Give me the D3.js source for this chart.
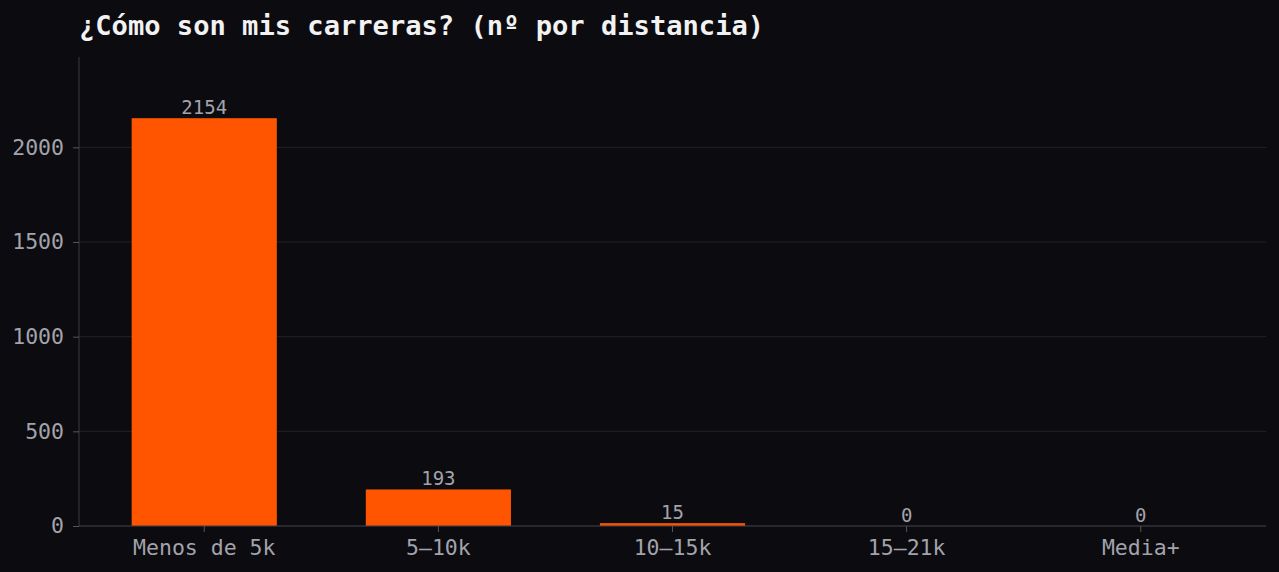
<!DOCTYPE html>
<html><head><meta charset="utf-8">
<script src="https://cdn.jsdelivr.net/npm/d3@7"></script>
<style>
html,body{margin:0;padding:0;background:#0b0b10;}
svg{display:block;}
</style></head>
<body>
<svg id="c" width="1279" height="572"></svg>
<script>
const categories = ["Menos de 5k", "5–10k", "10–15k", "15–21k", "Media+"];
const counts = [2154, 193, 15, 0, 0];
const yTicks = [0, 500, 1000, 1500, 2000];
const title = "¿Cómo son mis carreras? (nº por distancia)";

const W = 1279, H = 572;
const m = {left: 79, right: 13, top: 57, bottom: 46};
const svg = d3.select("#c");
svg.append("rect").attr("width", W).attr("height", H).attr("fill", "#0b0b10");

const x = d3.scaleBand().domain(categories).range([m.left, W - m.right])
  .paddingInner(0.38).paddingOuter(0.225);
const y = d3.scaleLinear().domain([0, d3.max(counts) * 1.15]).range([H - m.bottom, m.top]);

const font = "'DejaVu Sans Mono', monospace";

// grid
svg.append("g").selectAll("line").data(yTicks).join("line")
  .attr("x1", m.left).attr("x2", W - m.right)
  .attr("y1", d => y(d)).attr("y2", d => y(d))
  .attr("stroke", "#222229").attr("stroke-width", 1);

// bars
svg.append("g").selectAll("rect").data(counts).join("rect")
  .attr("x", (d, i) => x(categories[i]))
  .attr("width", x.bandwidth())
  .attr("y", d => y(d))
  .attr("height", d => y(0) - y(d))
  .attr("fill", "#ff5500");

// value labels
svg.append("g").selectAll("text").data(counts).join("text")
  .attr("x", (d, i) => x(categories[i]) + x.bandwidth() / 2)
  .attr("y", d => y(d) - 4)
  .attr("text-anchor", "middle")
  .attr("font-family", font).attr("font-size", 19)
  .attr("fill", "#a3a3ab")
  .text(d => d);

// axes
const yAxis = d3.axisLeft(y).tickValues(yTicks).tickFormat(d3.format("d")).tickSize(6).tickPadding(9);
const gy = svg.append("g").attr("transform", `translate(${m.left},0)`).call(yAxis);
const xAxis = d3.axisBottom(x).tickSize(6).tickPadding(8);
const gx = svg.append("g").attr("transform", `translate(0,${y(0)})`).call(xAxis);
[gy, gx].forEach(g => {
  g.select(".domain").attr("stroke", "#3a3a42");
  g.selectAll(".tick line").attr("stroke", "#55555c");
  g.selectAll(".tick text").attr("fill", "#a3a3ab").attr("font-family", font).attr("font-size", 21.5);
});
gy.select(".domain").attr("d", `M0,${y.range()[0]}V${y.range()[1]}`);
gx.select(".domain").attr("d", `M${m.left},0H${W - m.right}`);

// title
svg.append("text").attr("x", m.left).attr("y", 35)
  .attr("font-family", font).attr("font-weight", "bold").attr("font-size", 27.1)
  .attr("fill", "#f2f2f2").text(title);
</script>
</body></html>
